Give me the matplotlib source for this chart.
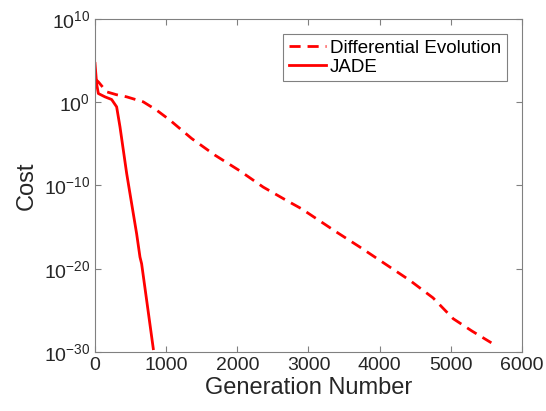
import numpy as np
import matplotlib
matplotlib.use('Agg')
import matplotlib.pyplot as plt

plt.rcParams['font.family'] = ['Liberation Sans', 'DejaVu Sans']
plt.rcParams['mathtext.fontset'] = 'custom'
plt.rcParams['mathtext.rm'] = 'Liberation Sans'
plt.rcParams['mathtext.it'] = 'Liberation Sans'

de_gen = [0, 47, 164, 300, 445, 678, 866, 1053, 1358, 1685, 2036, 2364, 2691,
          2902, 3394, 3722, 4073, 4424, 4750, 5033, 5300, 5570]
de_log = [2.8, 2.44, 1.24, 0.9, 0.64, 0.04, -0.96, -2.16, -4.36, -6.36, -8.25,
          -10.2, -11.8, -12.8, -15.6, -17.4, -19.4, -21.4, -23.5, -26, -27.5, -28.9]
jade_gen = [0, 23, 47, 140, 234, 304, 351, 398, 445, 492, 585, 632, 655, 726, 819]
jade_log = [4.66, 2.2, 1.04, 0.64, 0.32, -0.56, -2.96, -5.76, -8.56, -11.0,
            -15.8, -18.6, -19.4, -23.8, -29.6]

yticks = [1e-30, 1e-20, 1e-10, 1e0, 1e10]
ytick_labels = ['$\\mathregular{10^{-30}}$', '$\\mathregular{10^{-20}}$',
                '$\\mathregular{10^{-10}}$', '$\\mathregular{10^{0}}$',
                '$\\mathregular{10^{10}}$']
xticks = [0, 1000, 2000, 3000, 4000, 5000, 6000]

fig = plt.figure(figsize=(5.46, 4.11), dpi=100)
ax = fig.add_axes([0.174, 0.1436, 0.782, 0.8104])

ax.semilogy(de_gen, 10.0 ** np.array(de_log), color='#ff0000', linestyle='--',
            linewidth=2, dashes=(4, 2.5), label='Differential Evolution')
ax.semilogy(jade_gen, 10.0 ** np.array(jade_log), color='#ff0000', linestyle='-',
            linewidth=2, label='JADE')

ax.set_xlim(0, 6000)
ax.set_ylim(1e-30, 1e10)
ax.set_xticks(xticks)
ax.set_yticks(yticks)
ax.set_yticklabels(ytick_labels)
ax.yaxis.set_minor_locator(matplotlib.ticker.NullLocator())

ax.tick_params(direction='in', length=4, width=0.8, colors='#808080',
               labelcolor='#262626', labelsize=14, top=True, right=True)
for s in ax.spines.values():
    s.set_color('#808080')
    s.set_linewidth(0.8)

ax.set_xlabel('Generation Number', fontsize=17, color='#262626', labelpad=2)
ax.set_ylabel('Cost', fontsize=17, color='#262626', labelpad=4)

leg = ax.legend(loc='upper right', fontsize=13.5, handlelength=2.0,
                handletextpad=0.2, borderpad=0.3, fancybox=False,
                framealpha=1, borderaxespad=0.8, labelspacing=0.1)
leg.get_frame().set_edgecolor('#808080')
leg.get_frame().set_linewidth(0.8)

fig.savefig('out.png', dpi=100)
